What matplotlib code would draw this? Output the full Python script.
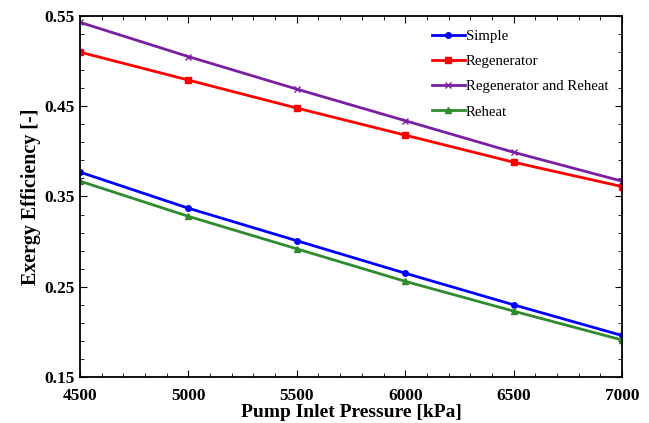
import numpy as np
import matplotlib
matplotlib.use('Agg')
import matplotlib.pyplot as plt
from matplotlib.ticker import MultipleLocator, FormatStrFormatter

pressure = [4500, 5000, 5500, 6000, 6500, 7000]
simple = [0.377, 0.337, 0.301, 0.265, 0.230, 0.196]
regen = [0.510, 0.479, 0.448, 0.418, 0.388, 0.361]
regen_reheat = [0.543, 0.505, 0.469, 0.434, 0.399, 0.367]
reheat = [0.367, 0.328, 0.292, 0.256, 0.223, 0.191]

plt.rcParams['font.family'] = 'Liberation Serif'

fig = plt.figure(figsize=(6.49, 4.23), dpi=100)
# axes box: x 80..622 px, y 16..377 px
ax = fig.add_axes([80/649, 1-377/423, 542/649, 361/423])

ax.plot(pressure, simple, color='blue', marker='o', markersize=4, lw=2, label='Simple')
ax.plot(pressure, regen, color='red', marker='s', markersize=4, lw=2, label='Regenerator')
ax.plot(pressure, regen_reheat, color='#7b1fa2', marker='x', markersize=4, lw=2, label='Regenerator and Reheat')
ax.plot(pressure, reheat, color='#2e8b2e', marker='^', markersize=4, lw=2, label='Reheat')

ax.set_xlim(4500, 7000)
ax.set_ylim(0.15, 0.55)
ax.xaxis.set_major_locator(MultipleLocator(500))
ax.xaxis.set_minor_locator(MultipleLocator(100))
ax.yaxis.set_major_locator(MultipleLocator(0.1, offset=0.05))
ax.yaxis.set_minor_locator(MultipleLocator(0.02, offset=0.01))
ax.yaxis.set_major_formatter(FormatStrFormatter('%.2f'))
ax.tick_params(which='both', direction='in', top=True, right=True)
ax.tick_params(which='major', length=5, labelsize=12.5)
ax.tick_params(axis='x', which='major', pad=8)
ax.tick_params(axis='y', which='major', pad=4)
ax.tick_params(which='minor', length=3)
for lab in ax.get_xticklabels() + ax.get_yticklabels():
    lab.set_fontweight('bold')
for sp in ax.spines.values():
    sp.set_linewidth(1.3)

ax.set_xlabel('Pump Inlet Pressure [kPa]', fontsize=14, fontweight='bold', labelpad=0)
ax.set_ylabel('Exergy Efficiency [-]', fontsize=14.4, fontweight='bold', labelpad=2)

ax.legend(loc='upper right', frameon=False, fontsize=10.7, handlelength=2.2,
          handletextpad=0.1, labelspacing=0.8, bbox_to_anchor=(1.0, 1.0))

plt.savefig('out.png', dpi=100)
